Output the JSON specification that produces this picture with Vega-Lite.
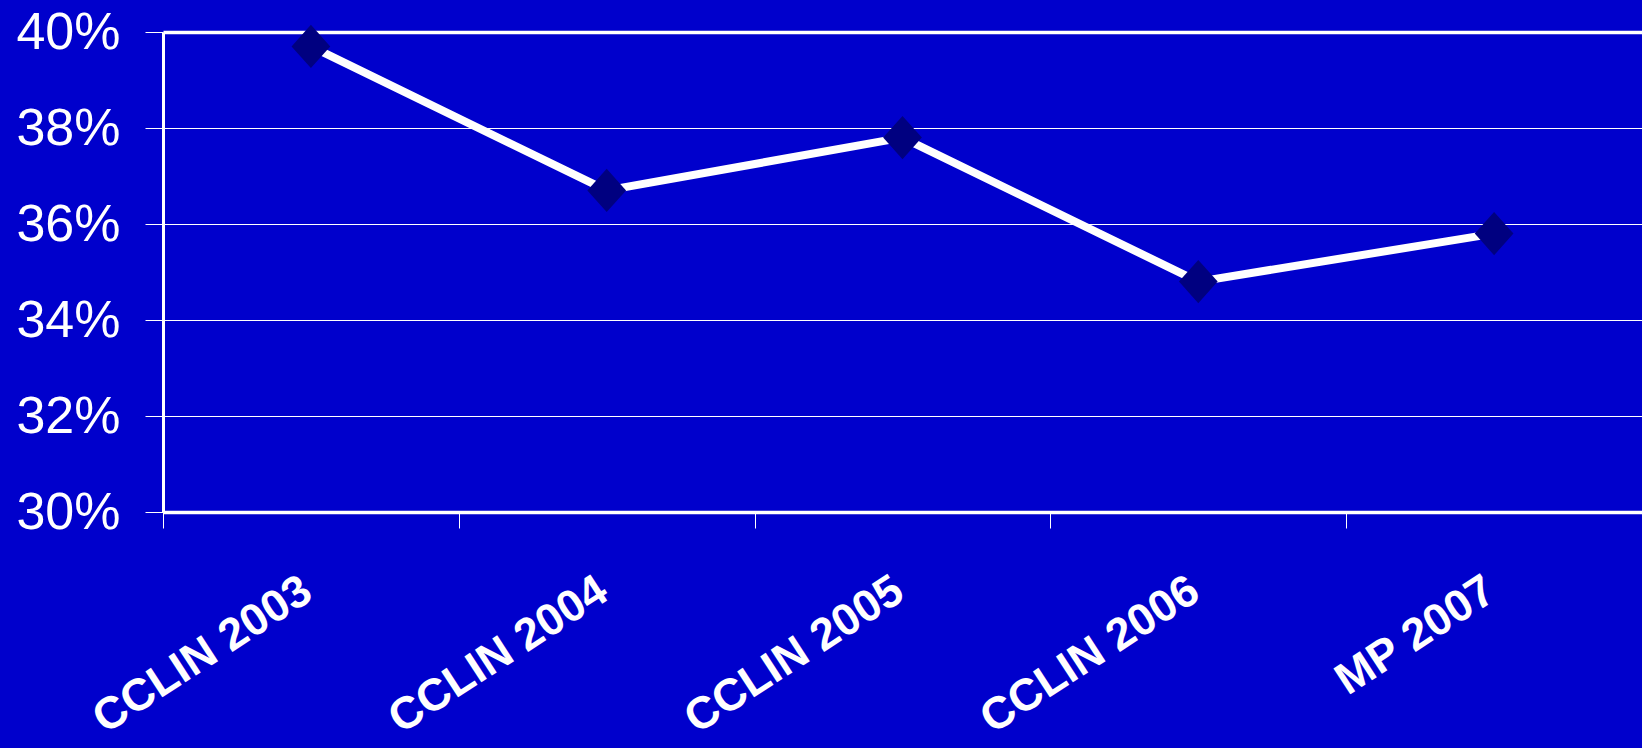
{
  "$schema": "https://vega.github.io/schema/vega-lite/v6.json",
  "width": 1479,
  "height": 480,
  "autosize": {"type": "none"},
  "padding": {"left": 163, "top": 32, "right": 0, "bottom": 236},
  "background": "#0000CC",
  "config": {"view": {"stroke": null}, "font": "Liberation Sans"},
  "data": {
    "values": [
      {"label": "CCLIN 2003", "value": 0.397},
      {"label": "CCLIN 2004", "value": 0.367},
      {"label": "CCLIN 2005", "value": 0.378},
      {"label": "CCLIN 2006", "value": 0.348},
      {"label": "MP 2007", "value": 0.358}
    ]
  },
  "encoding": {
    "x": {
      "field": "label",
      "type": "nominal",
      "sort": null,
      "scale": {"paddingInner": 0, "paddingOuter": 0},
      "axis": {
        "title": null,
        "grid": false,
        "domainColor": "white",
        "domainWidth": 3.5,
        "tickColor": "white",
        "tickWidth": 1,
        "tickSize": 16,
        "tickBand": "extent",
        "labelAngle": -33,
        "labelAlign": "right",
        "labelBaseline": "middle",
        "labelColor": "white",
        "labelFont": "Liberation Sans",
        "labelFontWeight": "bold",
        "labelFontSize": 45,
        "labelPadding": 58,
        "labelOffset": -4,
        "labelLimit": 0,
        "labelOverlap": false,
        "labelBound": false
      }
    },
    "y": {
      "field": "value",
      "type": "quantitative",
      "scale": {"domain": [0.3, 0.4], "nice": false, "zero": false},
      "axis": {
        "title": null,
        "values": [0.3, 0.32, 0.34, 0.36, 0.38, 0.4],
        "format": ".0%",
        "domainColor": "white",
        "domainWidth": 3,
        "tickColor": "white",
        "tickWidth": 1,
        "tickSize": 18,
        "labelColor": "white",
        "labelFont": "Liberation Sans",
        "labelFontSize": 52,
        "labelPadding": 25,
        "labelFlush": false,
        "labelOverlap": false,
        "gridColor": "white",
        "gridOpacity": 1,
        "gridWidth": {"condition": {"test": "datum.value >= 0.399", "value": 3.5}, "value": 1}
      }
    }
  },
  "layer": [
    {"mark": {"type": "line", "color": "white", "strokeWidth": 8}},
    {"mark": {"type": "point", "shape": "M0,-1.12L1,0L0,1.12L-1,0Z", "filled": true, "color": "#000080", "opacity": 1, "size": 1500}}
  ]
}
